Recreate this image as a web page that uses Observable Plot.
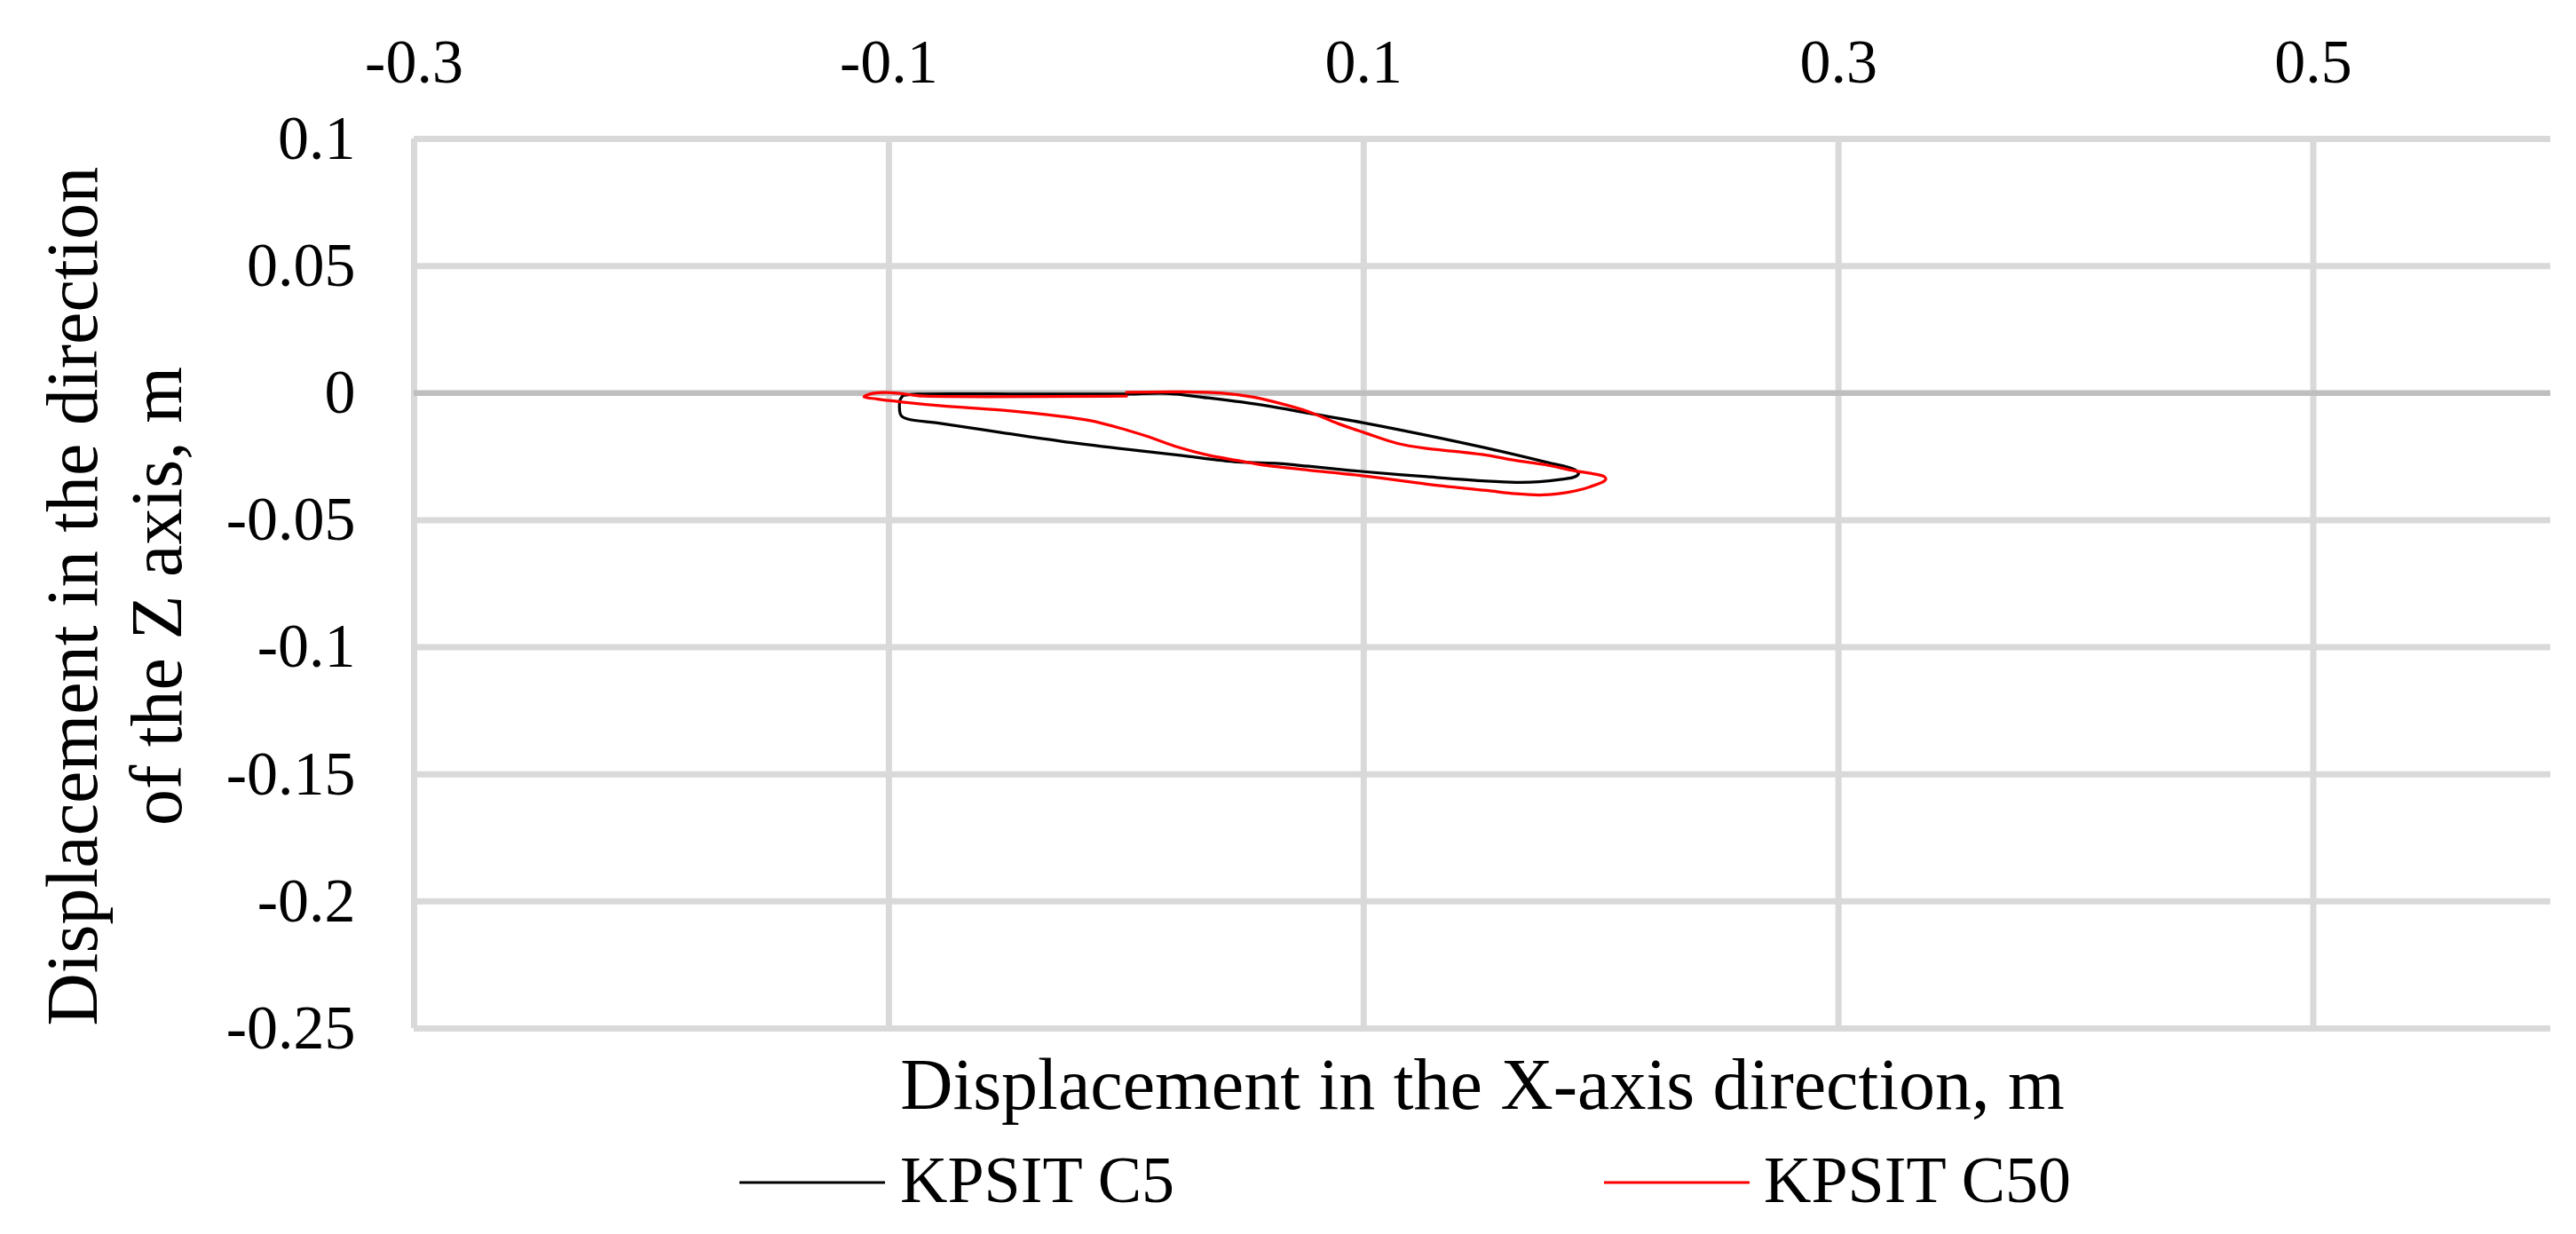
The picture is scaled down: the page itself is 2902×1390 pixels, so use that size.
<!DOCTYPE html>
<html>
<head>
<meta charset="utf-8">
<script src="https://cdn.jsdelivr.net/npm/d3@7"></script>
<script src="https://cdn.jsdelivr.net/npm/@observablehq/plot@0.6"></script>
<style>
  html, body { margin: 0; padding: 0; background: #ffffff; }
  #chart svg { display: block; }
</style>
</head>
<body>
<div id="chart"></div>
<script>
// ---- data ----
const seriesNames = ["KPSIT C5", "KPSIT C50"];
const seriesColors = ["#000000", "#ff0000"];

// KPSIT C5 (black) trajectory: X and Z displacement, m
const c5X = [-0.0940, -0.0878, -0.0400, 0.0001, 0.0169, 0.0344, 0.0593, 0.0768, 0.1001, 0.1266, 0.1516,
  0.1765, 0.1890, 0.1905, 0.1890, 0.1827, 0.1740, 0.1640, 0.1516, 0.1266, 0.1001, 0.0768, 0.0643,
  0.0468, 0.0219, -0.0030, -0.0279, -0.0529, -0.0778, -0.0921, -0.0946, -0.0953, -0.0953, -0.0940];
const c5Z = [-0.0009, -0.0004, -0.0004, -0.0004, -0.0001, -0.0019, -0.0050, -0.0079, -0.0117, -0.0166, -0.0216,
  -0.0271, -0.0302, -0.0317, -0.0329, -0.0340, -0.0349, -0.0351, -0.0346, -0.0329, -0.0309, -0.0288, -0.0277,
  -0.0271, -0.0244, -0.0218, -0.0189, -0.0155, -0.0120, -0.0102, -0.0091, -0.0079, -0.0027, -0.0009];

// KPSIT C50 (red) trajectory: X and Z displacement, m
const c50X = [0.0001, 0.0219, 0.0406, 0.0531, 0.0655, 0.0768, 0.0892, 0.1001, 0.1142, 0.1266, 0.1391,
  0.1516, 0.1640, 0.1765, 0.1890, 0.1964, 0.2014, 0.2020, 0.2014, 0.1952, 0.1890, 0.1827, 0.1740,
  0.1640, 0.1516, 0.1266, 0.1001, 0.0768, 0.0593, 0.0468, 0.0344, 0.0219, 0.0094, -0.0030, -0.0155,
  -0.0279, -0.0529, -0.0778, -0.0965, -0.1052, -0.1105, -0.1077, -0.1027, -0.0965, -0.0890, -0.0850, 0.0001];
const c50Z = [0.0003, 0.0005, 0.0000, -0.0015, -0.0042, -0.0073, -0.0120, -0.0155, -0.0198, -0.0218, -0.0230,
  -0.0244, -0.0265, -0.0282, -0.0306, -0.0317, -0.0329, -0.0337, -0.0346, -0.0369, -0.0385, -0.0395, -0.0401,
  -0.0396, -0.0383, -0.0358, -0.0326, -0.0303, -0.0285, -0.0265, -0.0244, -0.0213, -0.0172, -0.0137, -0.0108,
  -0.0091, -0.0067, -0.0050, -0.0033, -0.0023, -0.0015, -0.0003, 0.0002, 0.0000, -0.0009, -0.0012, -0.0012];

const xTicks = [-0.3, -0.1, 0.1, 0.3, 0.5];
const xTickLabels = ["-0.3", "-0.1", "0.1", "0.3", "0.5"];
const yTicks = [0.1, 0.05, 0, -0.05, -0.1, -0.15, -0.2, -0.25];
const yTickLabels = ["0.1", "0.05", "0", "-0.05", "-0.1", "-0.15", "-0.2", "-0.25"];
const xDomain = [-0.3, 0.6];
const yDomain = [-0.25, 0.1];
const xTitle = "Displacement in the X-axis direction, m";
const yTitle = "Displacement in the direction\nof the Z axis, m";

// ---- build table ----
const rows = [
  ...c5X.map((x, i) => ({series: seriesNames[0], x, z: c5Z[i]})),
  ...c50X.map((x, i) => ({series: seriesNames[1], x, z: c50Z[i]}))
];

const font = '"Liberation Serif", "Times New Roman", Times, serif';
const W = 2902, H = 1280;

const chart = Plot.plot({
  width: W,
  height: H,
  marginLeft: 466,
  marginRight: 29,
  marginTop: 156,
  marginBottom: 122,
  style: {fontFamily: font, background: "#ffffff", color: "#000000", overflow: "visible"},
  x: {domain: xDomain},
  y: {domain: yDomain},
  color: {domain: seriesNames, range: seriesColors},
  marks: [
    Plot.gridX(xTicks, {stroke: "#d9d9d9", strokeOpacity: 1, strokeWidth: 7}),
    Plot.gridY(yTicks.filter(d => d !== 0), {stroke: "#d9d9d9", strokeOpacity: 1, strokeWidth: 7}),
    Plot.ruleY([0], {stroke: "#bfbfbf", strokeWidth: 6.5}),
    Plot.line(rows, {x: "x", y: "z", z: "series", stroke: "series", strokeWidth: 3.25, curve: "catmull-rom"}),
    Plot.axisX(xTicks, {
      anchor: "top", tickSize: 0, tickPadding: 64, fontSize: 70, label: null,
      tickFormat: d => xTickLabels[xTicks.indexOf(d)]
    }),
    Plot.axisY(yTicks, {
      anchor: "left", tickSize: 0, tickPadding: 66, fontSize: 70, label: null,
      tickFormat: d => yTickLabels[yTicks.indexOf(d)]
    }),
    Plot.text([xTitle], {text: d => d, frameAnchor: "bottom", dy: 90, fontSize: 82, fill: "#000"}),
    Plot.text([yTitle], {text: d => d, frameAnchor: "left", textAnchor: "middle", rotate: -90,
      dx: -340.7, dy: 14, fontSize: 82, lineHeight: 1.17, fill: "#000"})
  ]
});

document.getElementById("chart").appendChild(chart);

// ---- legend below the chart ----
const legend = d3.create("svg")
  .attr("width", W)
  .attr("height", 110)
  .style("display", "block")
  .style("font-family", font);
const legendLayout = [{x0: 833, x1: 997, tx: 1014}, {x0: 1807, x1: 1971, tx: 1987}];
seriesNames.forEach((name, i) => {
  const L = legendLayout[i];
  legend.append("line")
    .attr("x1", L.x0).attr("x2", L.x1).attr("y1", 52).attr("y2", 52)
    .attr("stroke", seriesColors[i]).attr("stroke-width", 3);
  legend.append("text")
    .attr("x", L.tx).attr("y", 74)
    .attr("font-size", 74)
    .attr("fill", "#000")
    .text(name);
});
document.getElementById("chart").appendChild(legend.node());
</script>
</body>
</html>
